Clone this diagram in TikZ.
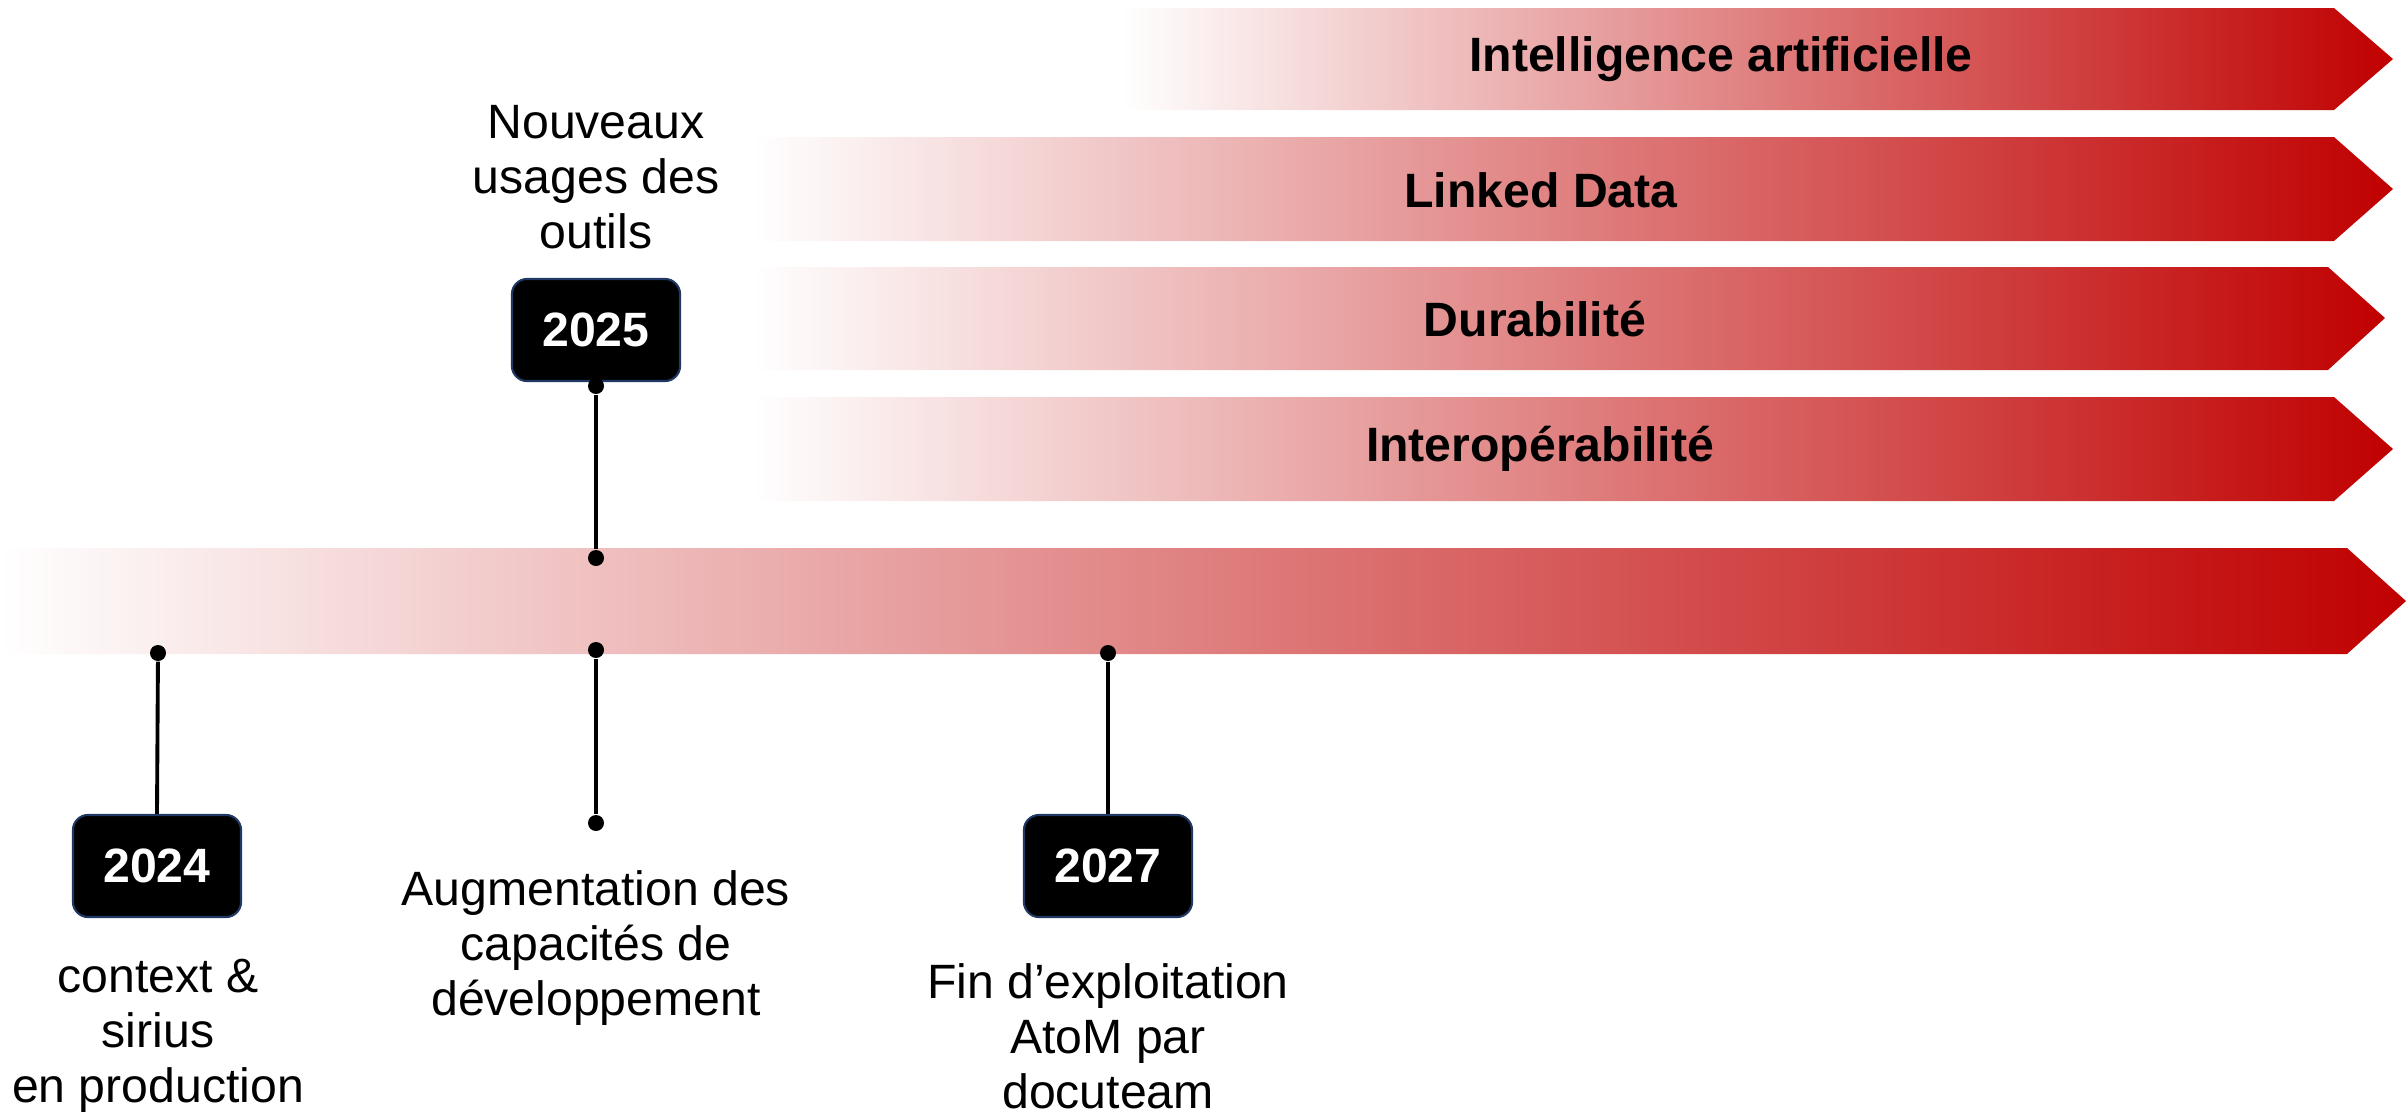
\documentclass[tikz,border=0pt]{standalone}
\usepackage{fontspec}
\setmainfont{Liberation Sans}
\usetikzlibrary{positioning}
\definecolor{bandred}{RGB}{192,0,0}
\definecolor{boxline}{RGB}{32,56,100}
\tikzstyle{band}=[left color=white, right color=bandred, draw=none]
\tikzstyle{yearbox}=[rectangle, rounded corners=4.3pt, fill=black, draw=boxline, line width=0.6pt,
  minimum width=1.68cm, minimum height=1.02cm, text=white, font=\fontsize{13.7pt}{15.6pt}\selectfont\bfseries]
\tikzstyle{theme}=[font=\fontsize{13.7pt}{15.6pt}\selectfont\bfseries]
\tikzstyle{note}=[align=center, inner sep=0pt, font=\fontsize{13.7pt}{15.7pt}\selectfont]
\tikzstyle{dot}=[circle, fill=black, inner sep=0pt, minimum size=0.16cm]
\tikzstyle{stem}=[line width=1.1pt]
\newcommand{\yearbox}{\node[yearbox]}
\newcommand{\tdot}{\node[dot]}

\begin{document}
\begin{tikzpicture}[x=0.01cm, y=-0.01cm]
\useasboundingbox (0,0) rectangle (2408,1114);
% theme bands
\path[band] (1121,8) -- (2334,8) -- (2393,59) -- (2334,110) -- (1121,110) -- cycle;
\path[band] (752,137) -- (2334,137) -- (2393,189) -- (2334,241) -- (752,241) -- cycle;
\path[band] (752,267) -- (2328,267) -- (2385,318) -- (2328,370) -- (752,370) -- cycle;
\path[band] (752,397) -- (2334,397) -- (2393,449) -- (2334,501) -- (752,501) -- cycle;
\path[band] (0,548) -- (2347,548) -- (2406,601) -- (2347,654) -- (0,654) -- cycle;
\node[theme] (ia) at (1721,59) {Intelligence artificielle};
\node[theme] (ld) at (1541,190) {Linked Data};
\node[theme] (dur) at (1535,319) {Durabilité};
\node[theme] (interop) at (1540,449) {Interopérabilité};
% years
\yearbox (y24) at (157,866) {2024};
\yearbox (y25) at (596,330) {2025};
\yearbox (y27) at (1108,866) {2027};
\tdot (d24) at (158,653) {};
\tdot (d25a) at (596,386) {};
\tdot (d25b) at (596,558) {};
\tdot (d25c) at (596,650) {};
\tdot (d25d) at (596,823) {};
\tdot (d27) at (1108,653) {};
\draw[stem] (d24) -- (y24.north);
\draw[stem] (d25a) -- (d25b);
\draw[stem] (d25c) -- (d25d);
\draw[stem] (d27) -- (y27.north);
% notes
\node[note] (n25top) at (596,177) {Nouveaux\\usages des\\outils};
\node[note] (n25) at (596,948) {Augmentation des\\capacités de\\développement};
\node[note] (n24) at (158,1036) {context \&\\sirius\\en production};
\node[note] (n27) at (1108,1036) {Fin d’exploitation\\AtoM par\\docuteam};
\end{tikzpicture}
\end{document}
